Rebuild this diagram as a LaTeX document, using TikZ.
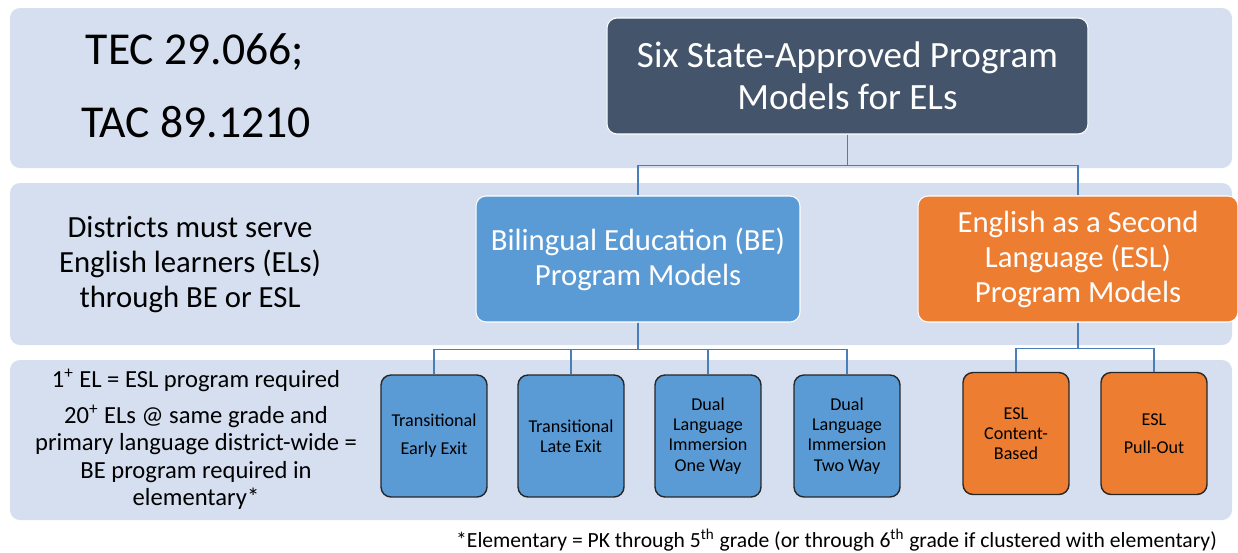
\documentclass[tikz,border=0pt]{standalone}
\usepackage{fontspec}
\setmainfont{Carlito}
\usepackage{tikz}
\definecolor{bandblue}{HTML}{D5DFEF}
\definecolor{slate}{HTML}{44546A}
\definecolor{beblue}{HTML}{5B9BD5}
\definecolor{eslorange}{HTML}{ED7D31}
\definecolor{connblue}{HTML}{4A7EBB}
\definecolor{boxline}{HTML}{262626}

\begin{document}
\begin{tikzpicture}[x=0.02cm,y=-0.02cm,
  band/.style={fill=bandblue,rounded corners=0.2cm},
  bigbox/.style={draw=white,line width=0.6pt,rounded corners=0.2cm,text=white,align=center,inner sep=0pt,font=\fontsize{17.5}{19.9}\selectfont},
  smallbox/.style={draw=boxline,line width=0.8pt,rounded corners=0.2cm,minimum width=2.12cm,minimum height=2.44cm,align=center,inner sep=0pt,font=\fontsize{10.3}{11.5}\selectfont},
  conn/.style={draw=connblue,line width=0.8pt}]
\useasboundingbox (0,0) rectangle (1238,552);
\fill[band] (10,8) rectangle (1232,168);
\fill[band] (10,183) rectangle (1232,345);
\fill[band] (10,360) rectangle (1232,520);

\node[font=\fontsize{26}{31}\selectfont] (tec) at (195,52) {TEC 29.066;};
\node[font=\fontsize{26}{31}\selectfont] (tac) at (196,122) {TAC 89.1210};
\node[align=center,font=\fontsize{17.5}{19.9}\selectfont] (serve) at (190,265) {Districts must serve\\English learners (ELs)\\through BE or ESL};
\node[font=\fontsize{14}{15.6}\selectfont] (eslreq) at (196,380) {1\textsuperscript{+} EL = ESL program required};
\node[align=center,font=\fontsize{14}{15.6}\selectfont] (bereq) at (196,457) {20\textsuperscript{+} ELs @ same grade and\\primary language district-wide =\\BE program required in\\elementary*};

\node[bigbox,fill=slate,minimum width=9.62cm,minimum height=2.32cm,font=\fontsize{21.1}{23.8}\selectfont] (top) at (847.5,76) {Six State-Approved Program\\Models for ELs};
\node[bigbox,fill=beblue,minimum width=6.48cm,minimum height=2.52cm] (be) at (638,259) {Bilingual Education (BE)\\Program Models};
\node[bigbox,fill=eslorange,minimum width=6.4cm,minimum height=2.52cm] (esl) at (1078,259) {English as a Second\\Language (ESL)\\Program Models};

\node[smallbox,fill=beblue] (tee) at (434,436) {Transitional\\[4.4pt]Early Exit};
\node[smallbox,fill=beblue] (tle) at (571,436) {Transitional\\Late Exit};
\node[smallbox,fill=beblue] (dlo) at (708,436) {Dual\\Language\\Immersion\\One Way};
\node[smallbox,fill=beblue] (dlt) at (847,436) {Dual\\Language\\Immersion\\Two Way};
\node[smallbox,fill=eslorange] (escb) at (1016,433.5) {ESL\\Content-\\Based};
\node[smallbox,fill=eslorange] (espo) at (1154,433.5) {ESL\\[4.4pt]Pull-Out};

\draw[conn] (top.south) -- ++(0,31) -| (be.north);
\draw[conn] (top.south) -- ++(0,31) -| (esl.north);
\foreach \n in {tee,tle,dlo,dlt}
  \draw[conn] (be.south) -- ++(0,27) -| (\n.north);
\foreach \n in {escb,espo}
  \draw[conn] (esl.south) -- ++(0,26) -| (\n.north);

\node[anchor=east,font=\fontsize{12.3}{14}\selectfont] (note) at (1223,540) {*Elementary = PK through 5\textsuperscript{th} grade (or through 6\textsuperscript{th} grade if clustered with elementary)};
\end{tikzpicture}
\end{document}
